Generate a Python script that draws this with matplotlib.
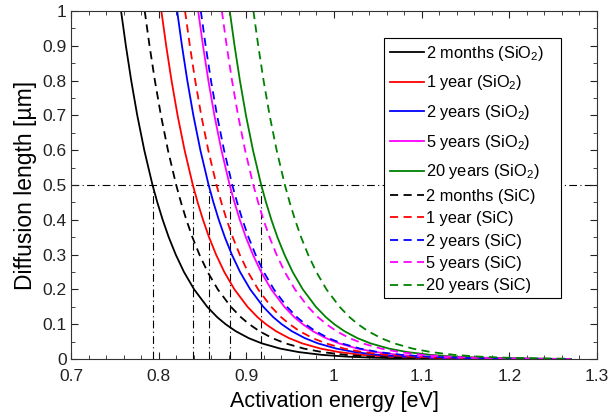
import matplotlib
matplotlib.use("Agg")
import matplotlib.pyplot as plt
from matplotlib.patches import Rectangle
from matplotlib.ticker import MultipleLocator

plt.rcParams['font.family'] = ['Liberation Sans', 'DejaVu Sans']
plt.rcParams['mathtext.default'] = 'regular'

length_um = [1.0, 0.9, 0.8, 0.7, 0.6, 0.5, 0.45, 0.4, 0.35, 0.3, 0.25, 0.2,
             0.15, 0.12, 0.1, 0.08, 0.06, 0.045, 0.03, 0.02, 0.012, 0.007,
             0.004, 0.002, 0.001, 0.0]

# activation energy [eV] of each curve at those levels
e_2m_sio2 = [0.7571, 0.7626, 0.7687, 0.7756, 0.7836, 0.7930, 0.7985, 0.8046, 0.8115, 0.8195, 0.8289, 0.8405,
             0.8554, 0.8669, 0.8764, 0.8879, 0.9028, 0.9177, 0.9387, 0.9597, 0.9862, 1.0141, 1.0431, 1.0790, 1.1149, 1.27]
e_1y_sio2 = [0.8031, 0.8086, 0.8147, 0.8216, 0.8296, 0.8390, 0.8445, 0.8506, 0.8575, 0.8655, 0.8749, 0.8865,
             0.9014, 0.9129, 0.9224, 0.9339, 0.9488, 0.9637, 0.9847, 1.0057, 1.0322, 1.0601, 1.0891, 1.1250, 1.1609, 1.27]
e_2y_sio2 = [0.8211, 0.8266, 0.8327, 0.8396, 0.8476, 0.8570, 0.8625, 0.8686, 0.8755, 0.8835, 0.8929, 0.9045,
             0.9194, 0.9309, 0.9404, 0.9519, 0.9668, 0.9817, 1.0027, 1.0237, 1.0502, 1.0781, 1.1071, 1.1430, 1.1789, 1.27]
e_5y_sio2 = [0.8451, 0.8506, 0.8567, 0.8636, 0.8716, 0.8810, 0.8865, 0.8926, 0.8995, 0.9075, 0.9169, 0.9285,
             0.9434, 0.9549, 0.9644, 0.9759, 0.9908, 1.0057, 1.0267, 1.0477, 1.0742, 1.1021, 1.1311, 1.1670, 1.2029, 1.27]
e_20y_sio2 = [0.8811, 0.8866, 0.8927, 0.8996, 0.9076, 0.9170, 0.9225, 0.9286, 0.9355, 0.9435, 0.9529, 0.9645,
              0.9794, 0.9909, 1.0004, 1.0119, 1.0268, 1.0417, 1.0627, 1.0837, 1.1102, 1.1381, 1.1671, 1.2030, 1.2389, 1.27]
e_2m_sic = [0.7841, 0.7896, 0.7957, 0.8026, 0.8106, 0.8200, 0.8255, 0.8316, 0.8385, 0.8465, 0.8559, 0.8675,
            0.8824, 0.8939, 0.9034, 0.9149, 0.9298, 0.9447, 0.9657, 0.9867, 1.0132, 1.0411, 1.0701, 1.1060, 1.1419, 1.27]
e_1y_sic = [0.8301, 0.8356, 0.8417, 0.8486, 0.8566, 0.8660, 0.8715, 0.8776, 0.8845, 0.8925, 0.9019, 0.9135,
            0.9284, 0.9399, 0.9494, 0.9609, 0.9758, 0.9907, 1.0117, 1.0327, 1.0592, 1.0871, 1.1161, 1.1520, 1.1879, 1.27]
e_2y_sic = [0.8481, 0.8536, 0.8597, 0.8666, 0.8746, 0.8840, 0.8895, 0.8956, 0.9025, 0.9105, 0.9199, 0.9315,
            0.9464, 0.9579, 0.9674, 0.9789, 0.9938, 1.0087, 1.0297, 1.0507, 1.0772, 1.1051, 1.1341, 1.1700, 1.2059, 1.27]
e_5y_sic = [0.8721, 0.8776, 0.8837, 0.8906, 0.8986, 0.9080, 0.9135, 0.9196, 0.9265, 0.9345, 0.9439, 0.9555,
            0.9704, 0.9819, 0.9914, 1.0029, 1.0178, 1.0327, 1.0537, 1.0747, 1.1012, 1.1291, 1.1581, 1.1940, 1.2299, 1.27]
e_20y_sic = [0.9081, 0.9136, 0.9197, 0.9266, 0.9346, 0.9440, 0.9495, 0.9556, 0.9625, 0.9705, 0.9799, 0.9915,
             1.0064, 1.0179, 1.0274, 1.0389, 1.0538, 1.0687, 1.0897, 1.1107, 1.1372, 1.1651, 1.1941, 1.2300, 1.2659, 1.27]

durations = ["2 months", "1 year", "2 years", "5 years", "20 years"]
colors = ["black", "red", "blue", "magenta", "#008000"]
sio2_curves = [e_2m_sio2, e_1y_sio2, e_2y_sio2, e_5y_sio2, e_20y_sio2]
sic_curves = [e_2m_sic, e_1y_sic, e_2y_sic, e_5y_sic, e_20y_sic]

# energies where the SiO2 curves cross 0.5 um
crossing_ev = [0.793, 0.839, 0.857, 0.881, 0.917]
target_um = 0.5

x_ticks = [0.7, 0.8, 0.9, 1.0, 1.1, 1.2, 1.3]
x_labels = ["0.7", "0.8", "0.9", "1", "1.1", "1.2", "1.3"]
y_ticks = [0, 0.1, 0.2, 0.3, 0.4, 0.5, 0.6, 0.7, 0.8, 0.9, 1.0]
y_labels = ["0", "0.1", "0.2", "0.3", "0.4", "0.5", "0.6", "0.7", "0.8", "0.9", "1"]

fig = plt.figure(figsize=(6.11, 4.17), dpi=100)
ax = fig.add_axes([0.1162, 0.139, 0.8608, 0.8346])

sio2_lines = []
for e, name, c in zip(sio2_curves, durations, colors):
    ln, = ax.plot(e, length_um, color=c, lw=1.3, label=name + " (SiO$_2$)")
    sio2_lines.append(ln)
sic_lines = []
for e, name, c in zip(sic_curves, durations, colors):
    ln, = ax.plot(e, length_um, color=c, lw=1.3, linestyle=(0, (4.5, 3)),
                  label=name + " (SiC)")
    sic_lines.append(ln)

ax.axhline(target_um, color="black", lw=0.8, linestyle=(0, (7, 3, 1, 3)), zorder=1)
for x in crossing_ev:
    ax.plot([x, x], [0, target_um], color="black", lw=0.8,
            linestyle=(0, (7, 3, 1, 3)), zorder=1)

ax.set_xlim(0.7, 1.3)
ax.set_ylim(0, 1)
ax.set_xticks(x_ticks)
ax.set_xticklabels(x_labels)
ax.set_yticks(y_ticks)
ax.set_yticklabels(y_labels)
ax.xaxis.set_minor_locator(MultipleLocator(0.02))
ax.yaxis.set_minor_locator(MultipleLocator(0.05))
ax.tick_params(which="both", direction="in", top=True, right=True, labelsize=12.5,
               colors="#222222")
ax.tick_params(axis="x", which="both", pad=7)
ax.tick_params(axis="y", which="both", pad=3)
ax.tick_params(which="major", length=5)
ax.tick_params(which="minor", length=3)
for s in ax.spines.values():
    s.set_color("#333333")

ax.set_xlabel("Activation energy [eV]", fontsize=15.5, labelpad=5.5)
ax.set_ylabel("Diffusion length [\u00b5m]", fontsize=16.5, labelpad=4)

# legend frame (white box hides the 0.5 um guide line)
ax.add_patch(Rectangle((0.595, 0.175), 0.3366, 0.747, transform=ax.transAxes,
                       facecolor="white", edgecolor="black", lw=0.8, zorder=4))

leg_kw = dict(frameon=False, fontsize=11.8, handlelength=2.1, handletextpad=0.1,
              borderpad=0, borderaxespad=0, loc="center left")
leg1 = ax.legend(handles=sio2_lines, bbox_to_anchor=(0.6065, 0.708),
                 labelspacing=0.65, **leg_kw)
leg1.set_zorder(5)
ax.add_artist(leg1)
leg2 = ax.legend(handles=sic_lines, bbox_to_anchor=(0.6065, 0.339),
                 labelspacing=0.45, **leg_kw)
leg2.set_zorder(5)

plt.savefig("out.png", dpi=100)
